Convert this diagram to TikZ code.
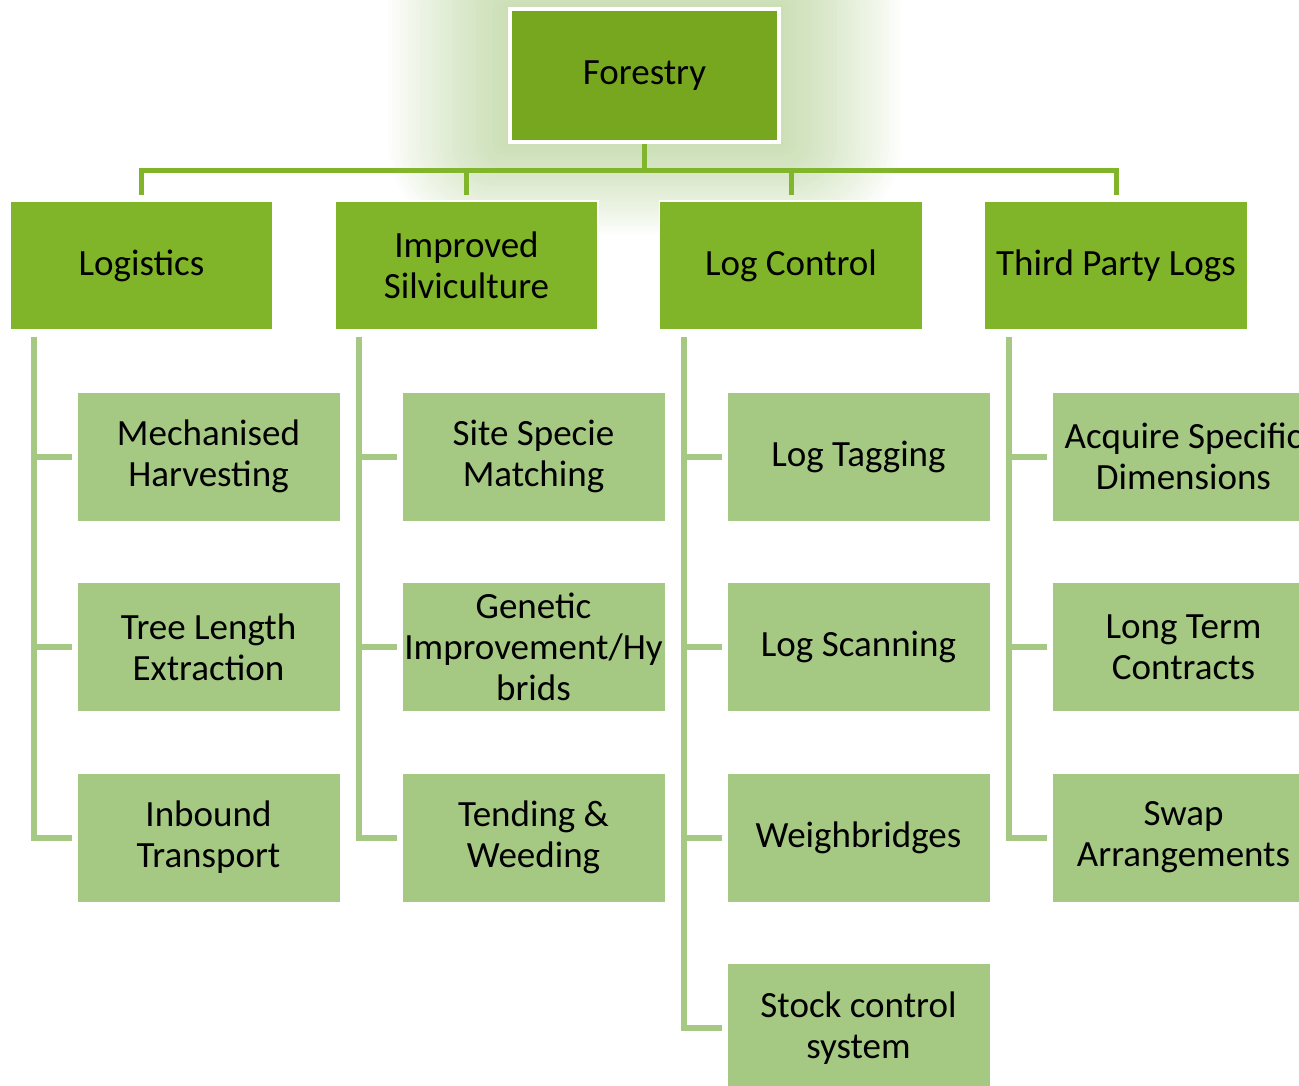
\documentclass[tikz,border=0pt]{standalone}
\usepackage{fontspec}
\setmainfont{Carlito}
\usetikzlibrary{backgrounds}
\definecolor{topgreen}{HTML}{76A71E}
\definecolor{midgreen}{HTML}{80B52A}
\definecolor{lightgreen}{HTML}{A5C882}
\definecolor{glowgreen}{HTML}{8DB85E}

\begin{document}
\begin{tikzpicture}[x=1pt, y=-1pt,
  box/.style={rectangle, inner sep=0pt, align=center, font=\fontsize{37}{41}\selectfont},
  topbox/.style={box, fill=topgreen, draw=white, line width=4pt, minimum width=269pt, minimum height=133pt},
  headbox/.style={box, fill=midgreen, draw=white, line width=1.5pt, minimum width=263pt, minimum height=129pt},
  itembox/.style={box, fill=lightgreen, draw=white, line width=1pt, minimum width=263pt, minimum height=129pt},
  bus/.style={midgreen, line width=5pt},
  branch/.style={lightgreen, line width=6pt}]
\useasboundingbox (0,0) rectangle (1299,1085);
\clip (0,0) rectangle (1299,1085);
\node[topbox] (forestry) at (644.5,75.5) {Forestry};
\node[headbox] (logistics) at (141.5,265.5) {Logistics};
\node[headbox] (silv) at (466.5,265.5) {Improved\\Silviculture};
\node[headbox] (logcontrol) at (791,265.5) {Log Control};
\node[headbox] (thirdparty) at (1116,265.5) {Third Party Logs};
\node[itembox] (mech) at (208.5,456.5) {Mechanised\\Harvesting};
\node[itembox] (treelength) at (208.5,647) {Tree Length\\Extraction};
\node[itembox] (inbound) at (208.5,837.5) {Inbound\\Transport};
\node[itembox] (sitespecie) at (533.5,456.5) {Site Specie\\Matching};
\node[itembox] (genetic) at (533.5,647) {Genetic\\Improvement/Hy\\brids};
\node[itembox] (tending) at (533.5,837.5) {Tending \&\\Weeding};
\node[itembox] (tagging) at (858.5,456.5) {Log Tagging};
\node[itembox] (scanning) at (858.5,647) {Log Scanning};
\node[itembox] (weigh) at (858.5,837.5) {Weighbridges};
\node[itembox] (stock) at (858.5,1028) {Stock control\\system};
\node[itembox] (acquire) at (1183.5,456.5) {Acquire Specific\\Dimensions};
\node[itembox] (longterm) at (1183.5,647) {Long Term\\Contracts};
\node[itembox] (swap) at (1183.5,837.5) {Swap\\Arrangements};
\begin{scope}[on background layer]
\foreach \h in {logistics, silv, logcontrol, thirdparty}
  \draw[bus, shorten >=5pt] (forestry.south) -- ++(0,26) -| (\h.north);
\foreach \h/\c in {logistics/mech, logistics/treelength, logistics/inbound,
  silv/sitespecie, silv/genetic, silv/tending,
  logcontrol/tagging, logcontrol/scanning, logcontrol/weigh, logcontrol/stock,
  thirdparty/acquire, thirdparty/longterm, thirdparty/swap}
  \draw[branch] ([xshift=25pt, yshift=-6pt]\h.south west) |- ([xshift=-5pt]\c.west);
\foreach \g in {1,...,30}
  \fill[glowgreen, opacity=0.02, rounded corners=\g*3pt]
    ([xshift=-\g*4pt, yshift=\g*3pt]forestry.north west) rectangle ([xshift=\g*4pt, yshift=-\g*3pt]forestry.south east);
\end{scope}
\end{tikzpicture}
\end{document}
